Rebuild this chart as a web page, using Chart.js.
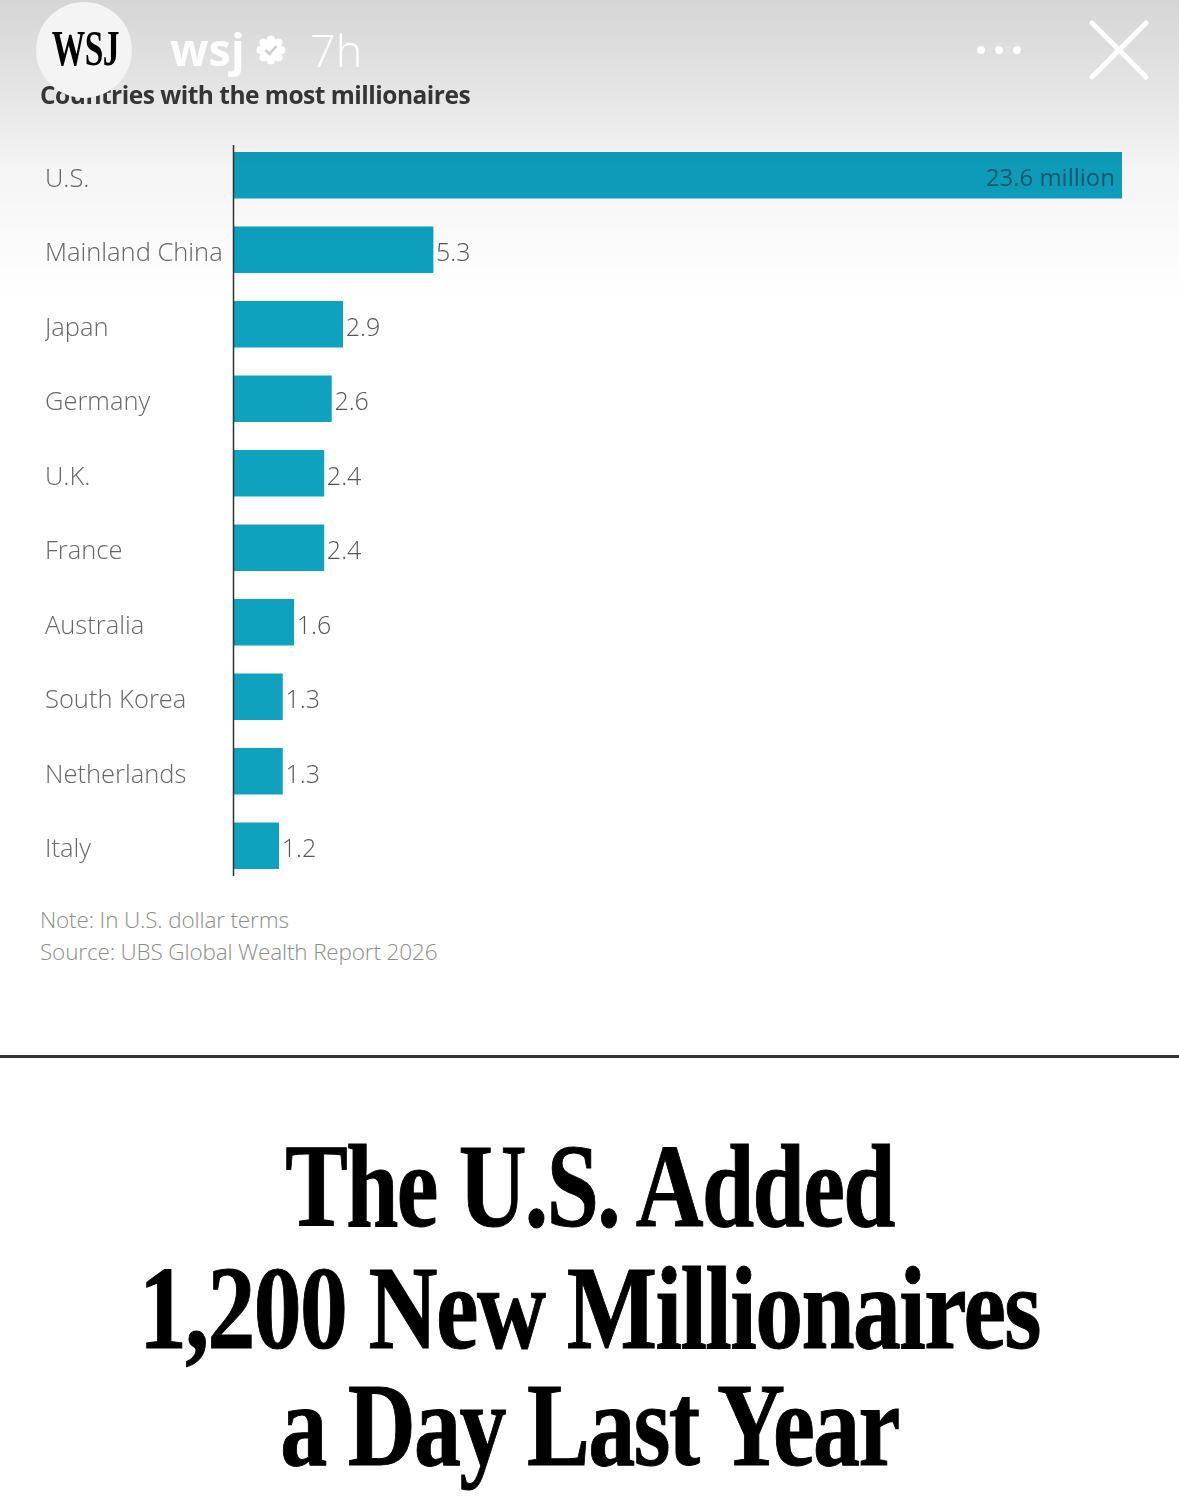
<!DOCTYPE html>
<html>
<head>
<meta charset="utf-8">
<title>Countries with the most millionaires</title>
<script src="https://cdn.jsdelivr.net/npm/chart.js@4"></script>
<style>
html, body { margin: 0; padding: 0; background: #fff; }
#page { position: relative; width: 1179px; height: 1504px; overflow: hidden; font-family: "Open Sans", sans-serif; }
#popChart { position: absolute; left: 0; top: 0; }
#shade { position: absolute; left: 0; top: 0; width: 1179px; height: 330px;
  background: linear-gradient(to bottom, rgba(0,0,0,.165) 0, rgba(0,0,0,.1) 90px, rgba(0,0,0,.04) 170px, rgba(0,0,0,0) 300px); }
.txt { position: absolute; white-space: nowrap; }
#title { left: 40px; top: 78px; font-size: 24.5px; font-weight: 700; color: #3a3a3a; letter-spacing: -.5px; }
#note { left: 40px; top: 904px; font-size: 22.5px; font-weight: 300; color: #8c8c8c; line-height: 32px; letter-spacing: -.15px; }
#logo { position: absolute; left: 36px; top: 2px; width: 96px; height: 96px; border-radius: 50%; background: #f4f4f4; }
#logotext { left: 0; width: 96px; top: 20px; text-align: center; font: bold 50px/52px "Liberation Serif", serif; color: #000; transform: scaleX(.67); letter-spacing: -1px; }
#handle { left: 170px; top: 21px; font: 700 45px/56px "Open Sans", sans-serif; color: #fff; opacity: .92; }
#age { left: 310px; top: 22px; font: 300 45px/56px "Open Sans", sans-serif; color: #fff; }
#rule { position: absolute; left: 0; top: 1055px; width: 1179px; height: 3px; background: #333; }
.head { left: 0; width: 1179px; text-align: center; font: bold 118px/120px "Liberation Serif", serif; color: #000; letter-spacing: -2px; -webkit-text-stroke: 1px #000; }
svg { position: absolute; left: 0; top: 0; }
</style>
</head>
<body>
<div id="page">
  <canvas id="popChart" width="1179" height="900"></canvas>
  <div class="txt" id="title">Countries with the most millionaires</div>
  <div class="txt" id="note">Note: In U.S. dollar terms<br>Source: UBS Global Wealth Report 2026</div>
  <div id="shade"></div>
  <div id="logo"><div class="txt" id="logotext">WSJ</div></div>
  <div class="txt" id="handle">wsj</div>
  <div class="txt" id="age">7h</div>
  <svg width="1179" height="110">
    <g fill="#fff" opacity=".95">
      <circle cx="271" cy="50" r="11"/>
      <circle cx="271" cy="39.5" r="4"/><circle cx="271" cy="60.5" r="4"/>
      <circle cx="260.5" cy="50" r="4"/><circle cx="281.5" cy="50" r="4"/>
      <circle cx="263.5" cy="42.5" r="4"/><circle cx="278.5" cy="42.5" r="4"/>
      <circle cx="263.5" cy="57.5" r="4"/><circle cx="278.5" cy="57.5" r="4"/>
    </g>
    <path d="M265.5 50l4 4 7-8" fill="none" stroke="#ccc" stroke-width="2.5"/>
    <circle cx="981" cy="50" r="4" fill="#fff"/>
    <circle cx="999" cy="50" r="4" fill="#fff"/>
    <circle cx="1017" cy="50" r="4" fill="#fff"/>
    <path d="M1092 23L1146 77M1146 23L1092 77" stroke="#fff" stroke-width="5" stroke-linecap="round"/>
  </svg>
  <div id="rule"></div>
  <div class="txt head" style="top:1127px;transform:scaleX(.795)">The U.S. Added</div>
  <div class="txt head" style="top:1249px;transform:scaleX(.811)">1,200 New Millionaires</div>
  <div class="txt head" style="top:1366px;transform:scaleX(.798)">a Day Last Year</div>
</div>
<script>
var countries = ["U.S.", "Mainland China", "Japan", "Germany", "U.K.", "France", "Australia", "South Korea", "Netherlands", "Italy"];
var millionaires = [23.6, 5.3, 2.9, 2.6, 2.4, 2.4, 1.6, 1.3, 1.3, 1.2];
var valueLabels = ["23.6 million", "5.3", "2.9", "2.6", "2.4", "2.4", "1.6", "1.3", "1.3", "1.2"];

// axis line and the value next to each bar
var barText = {
    id: "barText",
    afterDatasetsDraw: function(chart) {
        var c = chart.ctx;
        var x = chart.scales.x;
        c.save();
        c.strokeStyle = "#333";
        c.lineWidth = 1.5;
        c.beginPath();
        c.moveTo(x.left, chart.chartArea.top + 7);
        c.lineTo(x.left, chart.chartArea.bottom - 7);
        c.stroke();
        c.textBaseline = "middle";
        chart.getDatasetMeta(0).data.forEach(function(bar, i) {
            if (i === 0) {
                c.font = "400 24px 'Open Sans', sans-serif";
                c.textAlign = "right";
                c.fillStyle = "#1a5a72";
                c.fillText(valueLabels[i], bar.x - 7, bar.y + 4);
            } else {
                c.font = "300 25px 'Open Sans', sans-serif";
                c.textAlign = "left";
                c.fillStyle = "#555";
                c.fillText(valueLabels[i], bar.x + 3, bar.y + 4.5);
            }
        });
        c.restore();
    }
};

var popCanvas = document.getElementById("popChart").getContext("2d");
window.bars = new Chart(popCanvas, {
    type: "bar",
    data: {
        labels: countries,
        datasets: [{
            data: millionaires,
            backgroundColor: "#0ea2bf",
            barThickness: 46,
            borderSkipped: false
        }]
    },
    options: {
        indexAxis: "y",
        responsive: false,
        animation: false,
        layout: { padding: { left: 45, right: 57, top: 138, bottom: 17 } },
        plugins: { legend: { display: false }, tooltip: { enabled: false } },
        scales: {
            x: {
                min: 0,
                max: 23.6,
                display: false
            },
            y: {
                afterFit: function(scale) { scale.width = 188.5; },
                // labels sit a few px under the bar centre in the original
                afterUpdate: function(scale) {
                    if (scale.shifted) return;
                    scale.shifted = true;
                    var getItems = scale.getLabelItems;
                    scale.getLabelItems = function(area) {
                        var fresh = !this._labelItems;
                        var items = getItems.call(this, area);
                        if (fresh) items.forEach(function(it) { it.options.translation[1] += 4; });
                        return items;
                    };
                },
                grid: { display: false },
                border: { display: false },
                ticks: {
                    crossAlign: "far",
                    padding: 0,
                    color: "#666",
                    font: { family: "'Open Sans', sans-serif", size: 25.5, weight: "300" }
                }
            }
        }
    },
    plugins: [barText]
});
</script>
</body>
</html>
